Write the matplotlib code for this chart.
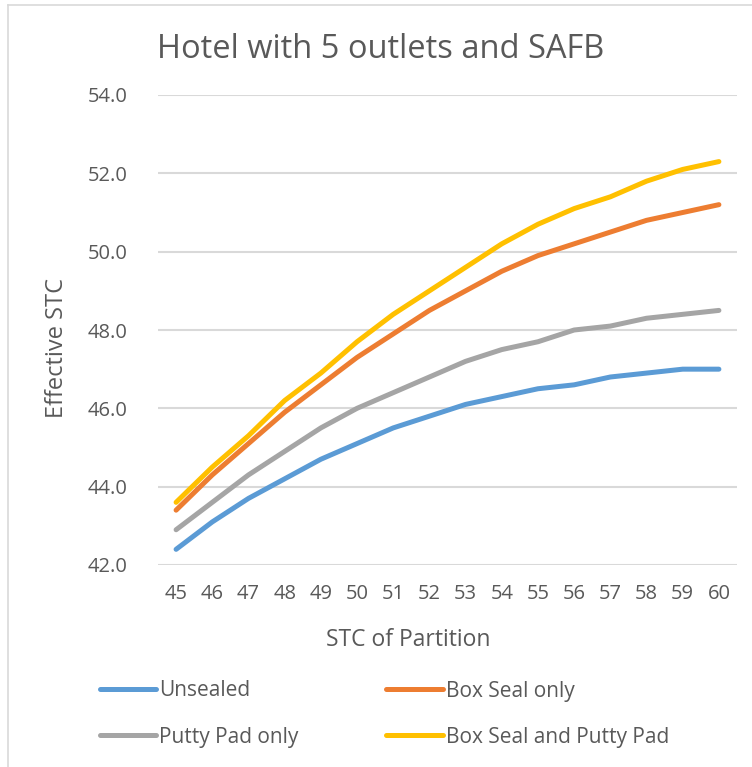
import matplotlib
matplotlib.use("Agg")
import matplotlib.pyplot as plt
from matplotlib.lines import Line2D

stc = [45, 46, 47, 48, 49, 50, 51, 52, 53, 54, 55, 56, 57, 58, 59, 60]
unsealed = [42.4, 43.1, 43.7, 44.2, 44.7, 45.1, 45.5, 45.8, 46.1, 46.3, 46.5, 46.6, 46.8, 46.9, 47.0, 47.0]
box_seal = [43.4, 44.3, 45.1, 45.9, 46.6, 47.3, 47.9, 48.5, 49.0, 49.5, 49.9, 50.2, 50.5, 50.8, 51.0, 51.2]
putty = [42.9, 43.6, 44.3, 44.9, 45.5, 46.0, 46.4, 46.8, 47.2, 47.5, 47.7, 48.0, 48.1, 48.3, 48.4, 48.5]
both = [43.6, 44.5, 45.3, 46.2, 46.9, 47.7, 48.4, 49.0, 49.6, 50.2, 50.7, 51.1, 51.4, 51.8, 52.1, 52.3]
y_ticks = [42.0, 44.0, 46.0, 48.0, 50.0, 52.0, 54.0]

plt.rcParams['font.family'] = ['Open Sans', 'DejaVu Sans']
txt = '#595959'
W, H = 752, 767
fig = plt.figure(figsize=(W / 100, H / 100), dpi=100)
ax = fig.add_axes([158 / W, 1 - 565 / H, (737 - 158) / W, (565 - 95) / H])

series = [
    ('Unsealed', unsealed, '#5B9BD5'),
    ('Box Seal only', box_seal, '#ED7D31'),
    ('Putty Pad only', putty, '#A5A5A5'),
    ('Box Seal and Putty Pad', both, '#FFC000'),
]
handles = {}
for name, vals, col in series:
    ln, = ax.plot(stc, vals, color=col, lw=3.6, solid_capstyle='round', solid_joinstyle='round', label=name, zorder=3)
    handles[name] = ln

ax.set_xlim(44.5, 60.5)
ax.set_ylim(42, 54)
ax.set_yticks(y_ticks)
ax.set_yticklabels([f'{v:.1f}' for v in y_ticks])
ax.set_xticks(stc)
ax.set_xticklabels([str(s) for s in stc])
ax.tick_params(length=0, labelsize=14.5, colors=txt)
ax.tick_params(axis='x', pad=14)
ax.tick_params(axis='y', pad=22)
for s in ax.spines.values():
    s.set_visible(False)
ax.grid(axis='y', color='#D9D9D9', lw=1.5)
ax.set_axisbelow(True)

fig.text(381 / W, 1 - 50 / H, 'Hotel with 5 outlets and SAFB', ha='center', va='center', fontsize=23.5, color=txt)
fig.text(408 / W, 1 - 640 / H, 'STC of Partition', ha='center', va='center', fontsize=16.5, color=txt)
fig.text(57 / W, 1 - 348 / H, 'Effective STC', ha='center', va='center', rotation=90, fontsize=17, color=txt)

# chart border (left and top visible)
fig.add_artist(Line2D([8 / W, 8 / W], [0, 1 - 5 / H], color='#D9D9D9', lw=1.2, transform=fig.transFigure))
fig.add_artist(Line2D([8 / W, 1], [1 - 5 / H, 1 - 5 / H], color='#D9D9D9', lw=1.2, transform=fig.transFigure))

order = ['Unsealed', 'Putty Pad only', 'Box Seal only', 'Box Seal and Putty Pad']
leg = fig.legend(handles=[handles[n] for n in order], labels=order,
                 ncol=2, loc='center left', bbox_to_anchor=(100 / W, 1 - 714 / H),
                 borderpad=0, borderaxespad=0,
                 frameon=False, fontsize=15, handlelength=2.7, handletextpad=0.15,
                 columnspacing=4.2, labelspacing=1.2, labelcolor=txt)

fig.savefig('out.png', dpi=100)
